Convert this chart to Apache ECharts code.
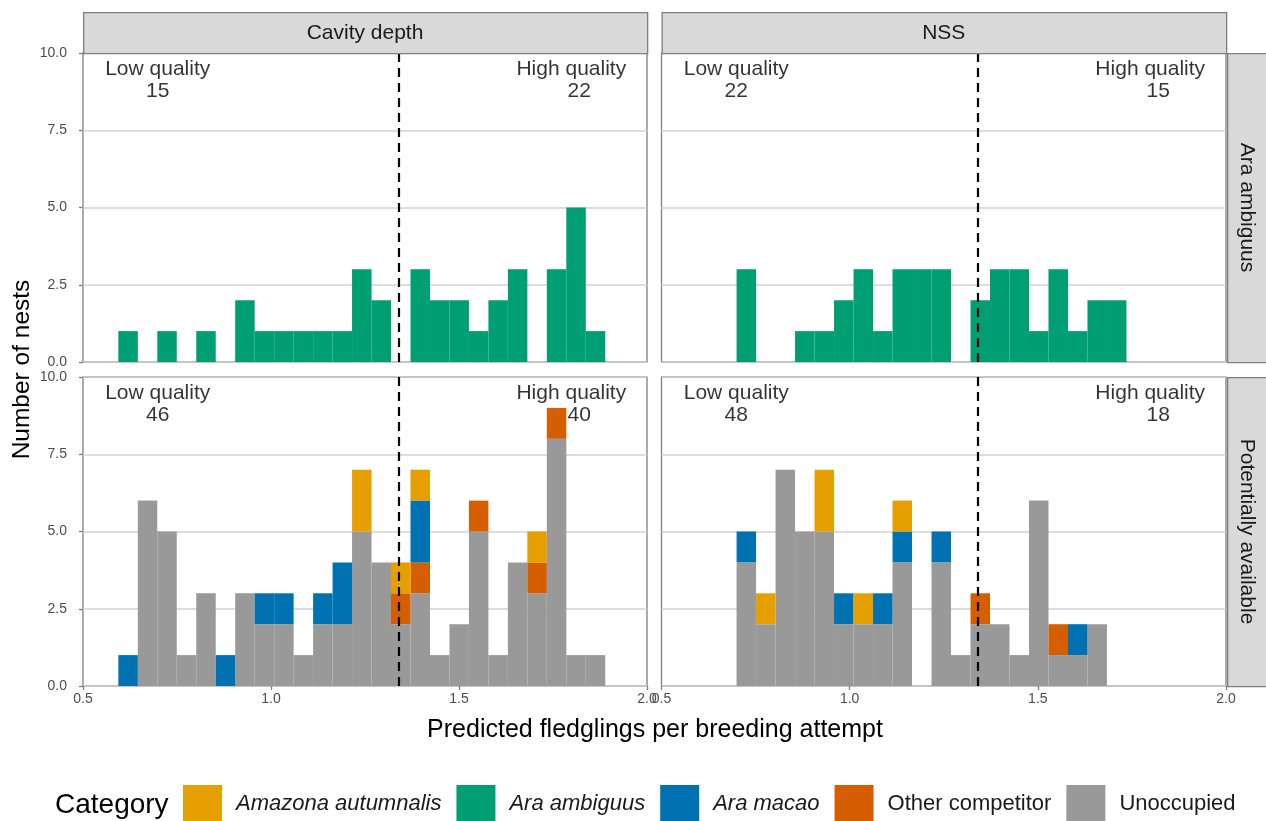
<!DOCTYPE html>
<html>
<head>
<meta charset="utf-8">
<script src="https://cdn.jsdelivr.net/npm/echarts@6/dist/echarts.min.js"></script>
<style>
  html, body { margin: 0; padding: 0; background: #fff; }
  #chart { width: 1266px; height: 821px; }
</style>
</head>
<body>
<div id="chart"></div>
<script>
// categories and colours
const categories = ['Amazona autumnalis', 'Ara ambiguus', 'Ara macao', 'Other competitor', 'Unoccupied'];
const italicNames = ['Amazona autumnalis', 'Ara ambiguus', 'Ara macao'];
const colors = {
  'Amazona autumnalis': '#E69F00',
  'Ara ambiguus': '#009E73',
  'Ara macao': '#0072B2',
  'Other competitor': '#D55E00',
  'Unoccupied': '#999999'
};
// ggplot stacks the first level on top
const stackOrder = ['Unoccupied', 'Other competitor', 'Ara macao', 'Ara ambiguus', 'Amazona autumnalis'];

const columnNames = ['Cavity depth', 'NSS'];
const rowNames = ['Ara ambiguus', 'Potentially available'];

// histogram bins
const binWidth = 0.0518;
const cavityStart = 0.594;
const nssStart = 0.6995;
const threshold = 1.34;

// counts per bin
const cavityAmbiguus = [1, 0, 1, 0, 1, 0, 2, 1, 1, 1, 1, 1, 3, 2, 0, 3, 2, 2, 1, 2, 3, 0, 3, 5, 1];
const nssAmbiguus = [3, 0, 0, 1, 1, 2, 3, 1, 3, 3, 3, 0, 2, 3, 3, 1, 3, 1, 2, 2];

const cavityUnoccupied = [0, 6, 5, 1, 3, 0, 3, 2, 2, 1, 2, 2, 5, 4, 2, 3, 1, 2, 5, 1, 4, 3, 8, 1, 1];
const cavityOther = [0, 0, 0, 0, 0, 0, 0, 0, 0, 0, 0, 0, 0, 0, 1, 1, 0, 0, 1, 0, 0, 1, 1, 0, 0];
const cavityMacao = [1, 0, 0, 0, 0, 1, 0, 1, 1, 0, 1, 2, 0, 0, 0, 2, 0, 0, 0, 0, 0, 0, 0, 0, 0];
const cavityAmazona = [0, 0, 0, 0, 0, 0, 0, 0, 0, 0, 0, 0, 2, 0, 1, 1, 0, 0, 0, 0, 0, 1, 0, 0, 0];

const nssUnoccupied = [4, 2, 7, 5, 5, 2, 2, 2, 4, 0, 4, 1, 2, 2, 1, 6, 1, 1, 2];
const nssOther = [0, 0, 0, 0, 0, 0, 0, 0, 0, 0, 0, 0, 1, 0, 0, 0, 1, 0, 0];
const nssMacao = [1, 0, 0, 0, 0, 1, 0, 1, 1, 0, 1, 0, 0, 0, 0, 0, 0, 1, 0];
const nssAmazona = [0, 1, 0, 0, 2, 0, 1, 0, 1, 0, 0, 0, 0, 0, 0, 0, 0, 0, 0];

// annotation counts (TL, TR, BL, BR)
const lowCounts = [15, 22, 46, 48];
const highCounts = [22, 15, 40, 18];

const yTicks = [0, 2.5, 5, 7.5, 10];
const xTicks = [0.5, 1.0, 1.5, 2.0];

const FONT = 'Liberation Sans, Arial, Helvetica, sans-serif';

const panels = [
  { start: cavityStart, counts: { 'Ara ambiguus': cavityAmbiguus } },
  { start: nssStart, counts: { 'Ara ambiguus': nssAmbiguus } },
  { start: cavityStart, counts: { 'Unoccupied': cavityUnoccupied, 'Other competitor': cavityOther, 'Ara macao': cavityMacao, 'Amazona autumnalis': cavityAmazona } },
  { start: nssStart, counts: { 'Unoccupied': nssUnoccupied, 'Other competitor': nssOther, 'Ara macao': nssMacao, 'Amazona autumnalis': nssAmazona } }
];

const gridBoxes = [
  { left: 83, top: 53, width: 564, height: 309 },
  { left: 661.5, top: 53, width: 564.5, height: 309 },
  { left: 83, top: 377, width: 564, height: 309 },
  { left: 661.5, top: 377, width: 564.5, height: 309 }
];

function renderBin(params, api) {
  const p0 = api.coord([api.value(0), api.value(3)]);
  const p1 = api.coord([api.value(1), api.value(2)]);
  return {
    type: 'rect',
    shape: { x: p0[0], y: p0[1], width: p1[0] - p0[0], height: p1[1] - p0[1] },
    style: api.style()
  };
}

const series = [];
panels.forEach(function (panel, i) {
  const nBins = Math.max.apply(null, Object.values(panel.counts).map(a => a.length));
  const base = new Array(nBins).fill(0);
  stackOrder.forEach(function (cat) {
    const arr = panel.counts[cat];
    if (!arr) return;
    const data = [];
    arr.forEach(function (c, k) {
      if (c > 0) {
        const x0 = panel.start + k * binWidth;
        data.push([x0, x0 + binWidth, base[k], base[k] + c]);
      }
      base[k] += c;
    });
    series.push({
      type: 'custom',
      name: cat,
      xAxisIndex: i,
      yAxisIndex: i,
      itemStyle: { color: colors[cat] },
      encode: { x: [0, 1], y: [2, 3] },
      renderItem: renderBin,
      data: data
    });
  });
  // annotations + threshold line
  series.push({
    type: 'scatter',
    xAxisIndex: i,
    yAxisIndex: i,
    symbolSize: 1,
    itemStyle: { color: 'rgba(0,0,0,0)' },
    silent: true,
    z: 5,
    data: [
      { value: [0.7, 9.82], which: 'low', n: lowCounts[i] },
      { value: [1.8, 9.82], which: 'high', n: highCounts[i] }
    ],
    label: {
      show: true,
      position: [0, 0],
      align: 'center',
      verticalAlign: 'top',
      color: '#000',
      formatter: function (p) {
        return p.data.which === 'low'
          ? '{t|Low quality}\n{n|' + p.data.n + '}'
          : '{t|High quality}\n{m|' + p.data.n + '}';
      },
      rich: {
        t: { fontSize: 21, fontFamily: FONT, color: '#000', lineHeight: 22 },
        n: { fontSize: 21, fontFamily: FONT, color: '#000', lineHeight: 22 },
        m: { fontSize: 21, fontFamily: FONT, color: '#000', lineHeight: 22, padding: [0, 0, 0, 16] }
      }
    },
    markLine: {
      silent: true,
      symbol: 'none',
      label: { show: false },
      lineStyle: { color: '#000', width: 2.2, type: [9, 6] },
      data: [{ xAxis: threshold }]
    }
  });
});

const grids = gridBoxes.map(b => Object.assign({
  show: true,
  borderColor: '#7f7f7f',
  borderWidth: 1.3,
  backgroundColor: '#fff'
}, b));

const xAxes = gridBoxes.map((b, i) => ({
  type: 'value',
  gridIndex: i,
  min: xTicks[0],
  max: xTicks[xTicks.length - 1],
  interval: 0.5,
  axisLine: { show: false },
  axisTick: { show: i >= 2, length: 4, lineStyle: { color: '#7f7f7f', width: 1.3 } },
  splitLine: { show: false },
  axisLabel: {
    show: i >= 2,
    showMinLabel: true,
    showMaxLabel: true,
    margin: 6,
    fontSize: 14,
    color: '#4d4d4d',
    fontFamily: FONT,
    formatter: v => v.toFixed(1)
  }
}));

const yAxes = gridBoxes.map((b, i) => ({
  type: 'value',
  gridIndex: i,
  min: yTicks[0],
  max: yTicks[yTicks.length - 1],
  interval: 2.5,
  axisLine: { show: false },
  axisTick: { show: i % 2 === 0, length: 4, lineStyle: { color: '#7f7f7f', width: 1.3 } },
  splitLine: { show: true, lineStyle: { color: '#d2d2d2', width: 1.6 } },
  axisLabel: {
    show: i % 2 === 0,
    showMinLabel: true,
    showMaxLabel: true,
    margin: 16,
    fontSize: 14,
    color: '#4d4d4d',
    fontFamily: FONT,
    formatter: v => v.toFixed(1)
  }
}));

const stripFill = '#d9d9d9';
const stripStroke = '#7f7f7f';
const graphic = [];
columnNames.forEach(function (name, c) {
  const b = gridBoxes[c];
  graphic.push({
    type: 'rect', left: b.left, top: 12, z: 10,
    shape: { width: b.width, height: 41 },
    style: { fill: stripFill, stroke: stripStroke, lineWidth: 1.3 }
  });
  graphic.push({
    type: 'text', x: b.left + b.width / 2, y: 33, z: 11,
    style: { text: name, fontSize: 21, fontFamily: FONT, fill: '#1a1a1a', align: 'center', verticalAlign: 'middle' }
  });
});
rowNames.forEach(function (name, r) {
  const b = gridBoxes[r * 2 + 1];
  graphic.push({
    type: 'rect', left: 1227, top: b.top, z: 10,
    shape: { width: 41, height: b.height },
    style: { fill: stripFill, stroke: stripStroke, lineWidth: 1.3 }
  });
  graphic.push({
    type: 'text', x: 1247, y: b.top + b.height / 2, rotation: -Math.PI / 2, z: 11,
    style: { text: name, fontSize: 21, fontFamily: FONT, fill: '#1a1a1a', align: 'center', verticalAlign: 'middle' }
  });
});
graphic.push({
  type: 'text', x: 655, y: 730, z: 11,
  style: { text: 'Predicted fledglings per breeding attempt', fontSize: 25, fontFamily: FONT, fill: '#000', align: 'center', verticalAlign: 'middle' }
});
graphic.push({
  type: 'text', x: 22, y: 369.5, rotation: Math.PI / 2, z: 11,
  style: { text: 'Number of nests', fontSize: 24.5, fontFamily: FONT, fill: '#000', align: 'center', verticalAlign: 'middle' }
});
graphic.push({
  type: 'text', x: 55, y: 805, z: 11,
  style: { text: 'Category', fontSize: 28, fontFamily: FONT, fill: '#000', align: 'left', verticalAlign: 'middle' }
});

const chart = echarts.init(document.getElementById('chart'));
chart.setOption({
  animation: false,
  backgroundColor: '#fff',
  grid: grids,
  xAxis: xAxes,
  yAxis: yAxes,
  legend: {
    data: categories,
    left: 178,
    top: 780,
    icon: 'rect',
    itemWidth: 39,
    itemHeight: 37,
    itemGap: 15,
    selectedMode: false,
    formatter: name => (italicNames.indexOf(name) >= 0 ? '{i|' + name + '}' : '{n|' + name + '}'),
    textStyle: {
      fontSize: 22,
      fontFamily: FONT,
      color: '#1a1a1a',
      rich: {
        i: { fontSize: 22, fontFamily: FONT, fontStyle: 'italic', color: '#1a1a1a', padding: [0, 0, 0, 9] },
        n: { fontSize: 22, fontFamily: FONT, color: '#1a1a1a', padding: [0, 0, 0, 9] }
      }
    }
  },
  graphic: graphic,
  series: series
});
</script>
</body>
</html>
